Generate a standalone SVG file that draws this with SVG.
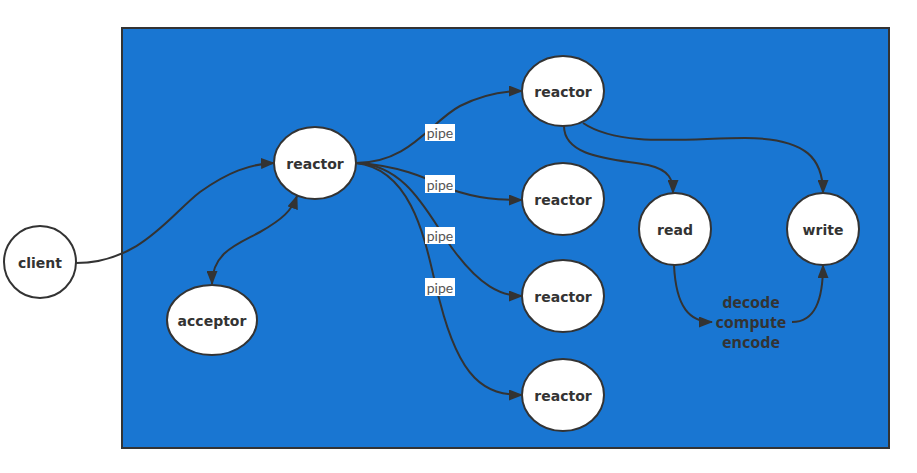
<svg xmlns="http://www.w3.org/2000/svg" width="917" height="473" viewBox="0 0 917 473">
<defs>
<marker id="arr" viewBox="0 0 14 11" refX="13" refY="5.5" markerWidth="14" markerHeight="11" markerUnits="userSpaceOnUse" orient="auto-start-reverse">
<path d="M0,0 L14,5.5 L0,11 Z" fill="#333333"/>
</marker>
<style>
.node ellipse{fill:#ffffff;stroke:#333333;stroke-width:2}
.node text{font-family:"Comic Sans MS","DejaVu Sans",sans-serif;font-weight:bold;font-size:14px;fill:#333333;text-anchor:middle;dominant-baseline:central}
.conn path{fill:none;stroke:#333333;stroke-width:2}
.lbl rect{fill:#ffffff}
.lbl text{font-family:Lato,"Open Sans",sans-serif;font-size:14px;fill:#555555;text-anchor:middle;dominant-baseline:central}
.step{font-family:"Noto Sans","Liberation Sans",sans-serif;font-weight:bold;font-size:16px;fill:#333333;text-anchor:middle}
</style>
</defs>
<rect width="917" height="473" fill="#ffffff"/>
<rect id="container" x="122" y="28" width="767" height="420" fill="#1976D2" stroke="#333333" stroke-width="2"/>

<g id="connectors" class="conn">
<path d="M76,263 C140,263 170,215 200,192 C228,172 250,164 274,163" marker-end="url(#arr)"/>
<path d="M212,284 C212,252 238,244 260,232 C283,219 292,210 297,196" marker-start="url(#arr)" marker-end="url(#arr)"/>
<path d="M356,163 C410,163 430,122 460,106 C480,96 500,91 522,91" marker-end="url(#arr)"/>
<path d="M356,163 C400,165 430,180 450,189 C478,199 500,200 522,200" marker-end="url(#arr)"/>
<path d="M356,163 C410,165 430,220 455,252 C480,285 500,296 522,296" marker-end="url(#arr)"/>
<path d="M356,163 C420,170 428,262 440,302 C460,380 485,395 522,395" marker-end="url(#arr)"/>
<path d="M564,126 C564,158 615,159 648,165 C670,170 673,180 673,193" marker-end="url(#arr)"/>
<path d="M583,123 C620,148 690,138 745,138 C808,138 823,160 823,193" marker-end="url(#arr)"/>
<path d="M674,265 C676,308 690,322 712,322" marker-end="url(#arr)"/>
<path d="M792,322 C815,322 823,300 823,265" marker-end="url(#arr)"/>
</g>

<g id="pipe-labels" class="lbl">
<rect x="425" y="124" width="30" height="17"/><text x="440" y="132.5">pipe</text>
<rect x="425" y="175" width="30" height="18"/><text x="440" y="184">pipe</text>
<rect x="425" y="227" width="30" height="17"/><text x="440" y="235.5">pipe</text>
<rect x="425" y="278" width="30" height="18"/><text x="440" y="287">pipe</text>
</g>

<g id="client" class="node"><ellipse cx="40" cy="262" rx="36" ry="36"/><text x="40" y="263">client</text></g>
<g id="reactor-main" class="node"><ellipse cx="315" cy="163" rx="41" ry="36"/><text x="315" y="164">reactor</text></g>
<g id="acceptor" class="node"><ellipse cx="212" cy="320" rx="45" ry="35"/><text x="212" y="321">acceptor</text></g>
<g id="reactor-1" class="node"><ellipse cx="563" cy="91" rx="41" ry="35"/><text x="563" y="92">reactor</text></g>
<g id="reactor-2" class="node"><ellipse cx="563" cy="199" rx="41" ry="36"/><text x="563" y="200">reactor</text></g>
<g id="reactor-3" class="node"><ellipse cx="563" cy="296" rx="41" ry="36"/><text x="563" y="297">reactor</text></g>
<g id="reactor-4" class="node"><ellipse cx="563" cy="395" rx="41" ry="36"/><text x="563" y="396">reactor</text></g>
<g id="read" class="node"><ellipse cx="675" cy="229" rx="36" ry="36"/><text x="675" y="230">read</text></g>
<g id="write" class="node"><ellipse cx="823" cy="229" rx="36" ry="36"/><text x="823" y="230">write</text></g>

<g id="steps">
<text class="step" x="751" y="308">decode</text>
<text class="step" x="751" y="328">compute</text>
<text class="step" x="751" y="348">encode</text>
</g>
</svg>
